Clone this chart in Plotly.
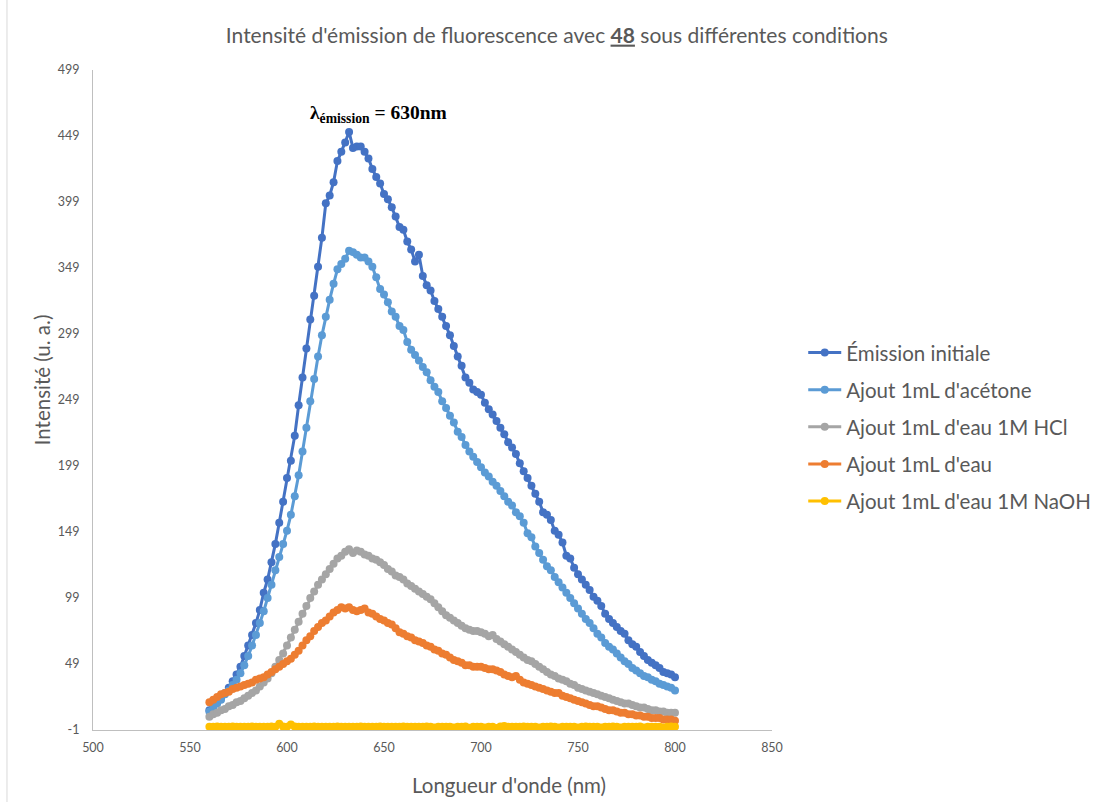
import plotly.graph_objects as go

# Wavelength grid (nm), 2 nm step from 560 to 800
wavelength = list(range(560, 802, 2))

emission_initiale = [
    14, 17, 20, 23, 27, 31, 36, 41, 47, 55,
    63, 71, 80, 90, 103, 113, 126, 140, 156, 172,
    190, 203, 222, 245, 266, 288, 310, 328, 350, 372,
    398, 404, 414, 430, 437, 444, 452, 440, 441, 441,
    437, 432, 424, 418, 413, 405, 401, 395, 388, 380,
    378, 369, 363, 354, 359, 343, 336, 332, 324, 318,
    312, 305, 298, 290, 282, 275, 266, 262, 257, 255,
    253, 247, 242, 238, 233, 228, 223, 217, 213, 208,
    201, 195, 190, 184, 178, 172, 164, 162, 158, 150,
    147, 141, 131, 129, 122, 117, 113, 109, 105, 100,
    97, 93, 87, 83, 80, 77, 74, 72, 67, 64,
    62, 58, 55, 52, 50, 48, 46, 43, 42, 41,
    39,
]

ajout_acetone = [
    13, 16, 19, 22, 26, 29, 33, 37, 42, 48,
    55, 63, 71, 80, 89, 99, 109, 120, 130, 140,
    150, 162, 176, 192, 210, 228, 248, 265, 282, 298,
    312, 325, 337, 348, 352, 356, 362, 361, 359, 357,
    357, 354, 350, 342, 333, 329, 323, 316, 312, 305,
    302, 293, 287, 283, 279, 274, 270, 264, 259, 255,
    248, 243, 237, 232, 225, 221, 215, 210, 206, 202,
    198, 194, 191, 187, 184, 180, 176, 172, 169, 164,
    161, 156, 148, 145, 138, 133, 128, 123, 120, 115,
    111, 107, 103, 99, 95, 91, 87, 83, 80, 76,
    72, 69, 65, 62, 60, 57, 54, 51, 49, 46,
    44, 42, 40, 39, 37, 36, 34, 33, 32, 31,
    29,
]

ajout_eau_hcl = [
    9, 11, 12, 14, 15, 17, 18, 20, 21, 23,
    25, 27, 29, 32, 35, 38, 42, 47, 52, 57,
    63, 69, 75, 81, 87, 93, 99, 104, 109, 113,
    117, 121, 125, 129, 131, 134, 136, 133, 135, 134,
    132, 131, 129, 128, 126, 124, 121, 119, 116, 115,
    113, 110, 108, 106, 104, 102, 100, 98, 95, 92,
    89, 86, 84, 82, 80, 78, 76, 75, 74, 74,
    73, 72, 70, 71, 68, 66, 64, 62, 60, 58,
    56, 54, 52, 51, 49, 47, 45, 43, 41, 40,
    38, 37, 36, 34, 33, 31, 30, 29, 28, 27,
    26, 25, 24, 23, 22, 21, 20, 19, 19, 18,
    17, 16, 16, 15, 14, 14, 13, 13, 12, 12,
    12,
]

ajout_eau = [
    20, 22, 24, 26, 27, 28, 30, 31, 32, 33,
    34, 35, 37, 38, 39, 41, 43, 45, 47, 49,
    51, 53, 56, 59, 63, 67, 70, 74, 77, 80,
    82, 85, 88, 90, 92, 91, 92, 90, 89, 90,
    91, 88, 87, 85, 83, 82, 80, 79, 76, 73,
    72, 70, 69, 67, 66, 65, 63, 62, 60, 59,
    57, 56, 54, 52, 51, 50, 48, 48, 47, 47,
    47, 46, 45, 45, 44, 43, 41, 40, 39, 40,
    37, 35, 34, 33, 32, 31, 30, 29, 28, 27,
    27, 25, 24, 23, 22, 21, 20, 19, 18, 17,
    17, 16, 15, 14, 14, 13, 12, 12, 11, 11,
    10, 10, 9, 9, 8, 8, 8, 7, 7, 7,
    6,
]

ajout_eau_naoh = [
    1.5, 1.5, 1.6, 1.4, 1.5, 1.5, 1.6, 1.5, 1.4, 1.5,
    1.5, 1.6, 1.5, 1.5, 1.4, 1.5, 1.6, 1.5, 3.8, 1.6,
    1.5, 3.2, 1.6, 1.5, 1.5, 1.4, 1.5, 1.6, 1.5, 1.5,
    1.4, 1.5, 1.5, 1.6, 1.5, 1.5, 1.4, 1.5, 1.5, 1.6,
    1.5, 1.5, 1.4, 1.5, 1.6, 1.5, 1.5, 1.4, 1.5, 1.5,
    1.6, 1.5, 1.5, 1.4, 1.5, 1.5, 1.6, 1.5, 0.8, 1.5,
    1.5, 1.4, 1.5, 0.9, 1.5, 1.5, 1.6, 0.7, 1.5, 1.5,
    1.4, 0.8, 1.5, 1.5, 0.5, 1.6, 2.0, 1.5, 1.5, 1.4,
    1.5, 1.6, 1.5, 1.5, 1.4, 0.8, 1.5, 1.5, 1.6, 1.5,
    0.8, 1.5, 1.4, 1.5, 1.5, 0.9, 1.5, 1.6, 1.5, 1.5,
    1.4, 0.9, 1.5, 1.5, 1.6, 1.5, 0.8, 1.5, 1.4, 1.5,
    1.5, 1.6, 0.9, 1.5, 1.5, 1.4, 1.5, 0.8, 1.5, 1.6,
    1.5,
]

series_names = [
    "Émission initiale",
    "Ajout 1mL d'acétone",
    "Ajout 1mL d'eau 1M HCl",
    "Ajout 1mL d'eau",
    "Ajout 1mL d'eau 1M NaOH",
]
series_values = [emission_initiale, ajout_acetone, ajout_eau_hcl, ajout_eau, ajout_eau_naoh]
series_colors = ["#4472C4", "#5B9BD5", "#A5A5A5", "#ED7D31", "#FFC000"]

y_ticks = [-1, 49, 99, 149, 199, 249, 299, 349, 399, 449, 499]
x_ticks = [500, 550, 600, 650, 700, 750, 800, 850]

FONT = "Lato"
GREY_TEXT = "#595959"

fig = go.Figure()
for name, values, color in zip(series_names, series_values, series_colors):
    fig.add_trace(go.Scatter(
        x=wavelength, y=values, name=name, legendgroup=name,
        mode="lines+markers",
        line=dict(color=color, width=3),
        marker=dict(color=color, size=8),
    ))

fig.update_layout(
    width=1094, height=802,
    paper_bgcolor="white", plot_bgcolor="white",
    margin=dict(l=93, r=322, t=70, b=72, autoexpand=False),
    font=dict(family=FONT, color=GREY_TEXT),
    title=dict(
        text="Intensité d'émission de fluorescence avec <b><u>48</u></b> sous différentes conditions",
        x=0.509, xref="container", xanchor="center",
        y=0.956, yref="container", yanchor="middle",
        font=dict(family=FONT, size=21, color=GREY_TEXT),
    ),
    xaxis=dict(
        range=[500, 850], tickvals=x_ticks, ticktext=[str(v) for v in x_ticks],
        showgrid=False, zeroline=False, showline=True, linecolor="#BFBFBF", linewidth=1,
        ticks="", ticklabelstandoff=6, tickfont=dict(size=12.5, color=GREY_TEXT),
    ),
    yaxis=dict(
        range=[-1, 499], tickvals=y_ticks, ticktext=[str(v) for v in y_ticks],
        showgrid=False, zeroline=False, showline=True, linecolor="#BFBFBF", linewidth=1,
        ticks="", ticklabelstandoff=10, tickfont=dict(size=12.5, color=GREY_TEXT),
    ),
    legend=dict(
        x=1.046, xanchor="left", y=0.602, yanchor="top",
        font=dict(family=FONT, size=20.5, color=GREY_TEXT),
        itemwidth=33, tracegroupgap=7.5, bgcolor="rgba(0,0,0,0)",
    ),
    showlegend=True,
)

# Chart-area border on the left edge
fig.add_shape(
    type="line", xref="paper", yref="paper",
    x0=-0.1267, x1=-0.1267, y0=-0.11, y1=1.11,
    line=dict(color="#D9D9D9", width=1),
)

# Axis titles
fig.add_annotation(
    x=0.6127, y=-0.083, xref="paper", yref="paper",
    text="Longueur d'onde (nm)", showarrow=False,
    xanchor="center", yanchor="middle",
    font=dict(family=FONT, size=20.5, color=GREY_TEXT),
)
fig.add_annotation(
    x=-0.075, y=0.53, xref="paper", yref="paper",
    text="Intensité (u. a.)", showarrow=False, textangle=-90,
    xanchor="center", yanchor="middle",
    font=dict(family=FONT, size=20.5, color=GREY_TEXT),
)

# Emission wavelength label above the main peak
fig.add_annotation(
    x=647, y=466, xref="x", yref="y",
    text="<b>λ<sub>émission</sub> = 630nm</b>",
    showarrow=False, xanchor="center", yanchor="middle",
    font=dict(family="Liberation Serif", size=19.5, color="black"),
)

fig.write_html("out.html")
